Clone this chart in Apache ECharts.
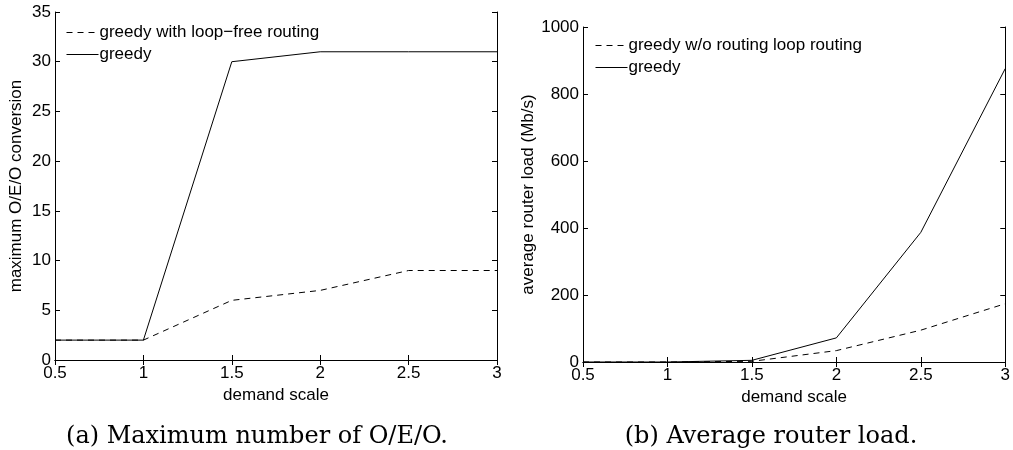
<!DOCTYPE html>
<html>
<head>
<meta charset="utf-8">
<script src="https://cdn.jsdelivr.net/npm/echarts@6/dist/echarts.min.js"></script>
<style>
  html,body{margin:0;padding:0;background:#fff}
  #chart{width:1013px;height:450px}
</style>
</head>
<body>
<div id="chart"></div>
<script>
// demand scale values
var scales = [0.5, 1, 1.5, 2, 2.5, 3];
// (a) maximum O/E/O conversion
var oeoLoopFree = [2, 2, 6, 7, 9, 9];
var oeoGreedy = [2, 2, 30, 31, 31, 31];
// (b) average router load (Mb/s)
var loadNoLoop = [0, 0, 2, 34, 95, 174];
var loadGreedy = [0, 0, 5, 72, 387, 876];

function pairs(ys) {
  return scales.map(function (x, i) { return [x, ys[i]]; });
}

var font = 'Liberation Sans, Arial, sans-serif';
var black = '#000';
var fs = 17;

function xAxes(grid) {
  return [{
    gridIndex: grid, type: 'value', min: 0.5, max: 3, interval: 0.5,
    name: 'demand scale', nameLocation: 'middle', nameGap: 23,
    nameTextStyle: {color: black, fontFamily: font, fontSize: fs},
    axisLine: {lineStyle: {color: black, width: 1}},
    axisTick: {inside: true, length: 5, lineStyle: {color: black}},
    axisLabel: {color: black, fontFamily: font, fontSize: fs, margin: 5},
    splitLine: {show: false}
  }, {
    gridIndex: grid, type: 'value', min: 0.5, max: 3, interval: 0.5, position: 'top',
    axisLine: {lineStyle: {color: black, width: 1}},
    axisTick: {inside: true, length: 5, lineStyle: {color: black}},
    axisLabel: {show: false}, splitLine: {show: false}
  }];
}

function yAxes(grid, max, interval, name, gap) {
  return [{
    gridIndex: grid, type: 'value', min: 0, max: max, interval: interval,
    name: name, nameLocation: 'middle', nameGap: gap,
    nameTextStyle: {color: black, fontFamily: font, fontSize: fs},
    axisLine: {show: true, lineStyle: {color: black, width: 1}},
    axisTick: {show: true, inside: true, length: 5, lineStyle: {color: black}},
    axisLabel: {color: black, fontFamily: font, fontSize: fs, margin: 4,
      formatter: function (v) { return String(v); }},
    splitLine: {show: false}
  }, {
    gridIndex: grid, type: 'value', min: 0, max: max, interval: interval, position: 'right',
    axisLine: {show: true, lineStyle: {color: black, width: 1}},
    axisTick: {show: true, inside: true, length: 5, lineStyle: {color: black}},
    axisLabel: {show: false}, splitLine: {show: false}
  }];
}

function line(name, x, y, data, dashed) {
  return {
    name: name, type: 'line', xAxisIndex: x, yAxisIndex: y, data: data,
    symbol: 'none', showSymbol: false,
    lineStyle: {color: black, width: 1, type: dashed ? [6, 5] : 'solid'},
    itemStyle: {color: black}
  };
}

var legendBase = {
  orient: 'vertical', itemGap: 5, itemWidth: 32, itemHeight: 14,
  itemStyle: {color: 'transparent', borderColor: 'transparent', borderWidth: 0},
  lineStyle: {width: 1},
  textStyle: {fontFamily: font, fontSize: fs, color: black, padding: [0, 0, 0, -4]}
};

var capStyle = {fontFamily: 'DejaVu Serif, serif', fontWeight: 'normal', fontSize: 24, color: black};

var chart = echarts.init(document.getElementById('chart'));
chart.setOption({
  backgroundColor: '#fff',
  animation: false,
  title: [
    {text: '(a) Maximum number of O/E/O.', left: 252, top: 420, textAlign: 'center', textStyle: capStyle},
    {text: '(b) Average router load.', left: 766, top: 420, textAlign: 'center', textStyle: capStyle}
  ],
  legend: [
    Object.assign({left: 61, top: 19, data: ['greedy with loop\u2212free routing', 'greedy ']}, legendBase),
    Object.assign({left: 590, top: 32, data: ['greedy w/o routing loop routing', 'greedy']}, legendBase)
  ],
  grid: [
    {left: 55, top: 12, width: 442, height: 348},
    {left: 583, top: 27, width: 426, height: 335}
  ],
  xAxis: xAxes(0).concat(xAxes(1)),
  yAxis: yAxes(0, 35, 5, 'maximum O/E/O conversion', 30)
    .concat(yAxes(1, 1000, 200, 'average router load (Mb/s)', 43)),
  series: [
    line('greedy with loop\u2212free routing', 0, 0, pairs(oeoLoopFree), true),
    line('greedy ', 0, 0, pairs(oeoGreedy), false),
    line('greedy w/o routing loop routing', 2, 2, pairs(loadNoLoop), true),
    line('greedy', 2, 2, pairs(loadGreedy), false)
  ]
});
</script>
</body>
</html>
